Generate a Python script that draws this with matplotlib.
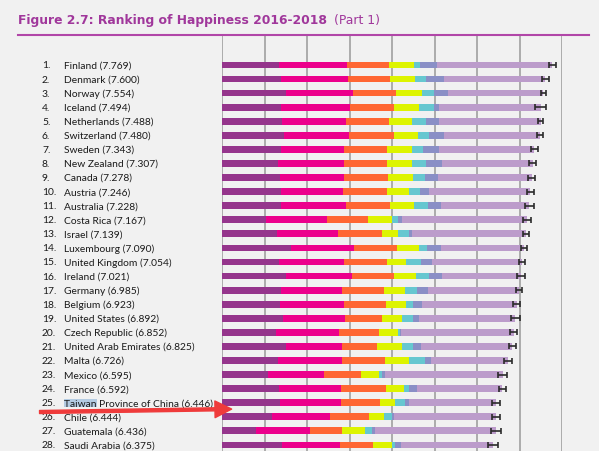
import numpy as np
import matplotlib
matplotlib.use('Agg')
import matplotlib.pyplot as plt
import matplotlib.transforms as mtransforms
from matplotlib.patches import Rectangle

# Ranking data (World Happiness Report 2019, top 28)
countries = ['Finland', 'Denmark', 'Norway', 'Iceland', 'Netherlands', 'Switzerland',
             'Sweden', 'New Zealand', 'Canada', 'Austria', 'Australia', 'Costa Rica',
             'Israel', 'Luxembourg', 'United Kingdom', 'Ireland', 'Germany', 'Belgium',
             'United States', 'Czech Republic', 'United Arab Emirates', 'Malta', 'Mexico',
             'France', 'Taiwan Province of China', 'Chile', 'Guatemala', 'Saudi Arabia']
scores = [7.769, 7.600, 7.554, 7.494, 7.488, 7.480, 7.343, 7.307, 7.278, 7.246, 7.228,
          7.167, 7.139, 7.090, 7.054, 7.021, 6.985, 6.923, 6.892, 6.852, 6.825, 6.726,
          6.595, 6.592, 6.446, 6.444, 6.436, 6.375]
gdp = [1.340, 1.383, 1.488, 1.380, 1.396, 1.452, 1.387, 1.303, 1.365, 1.376, 1.372,
       1.034, 1.276, 1.609, 1.333, 1.499, 1.373, 1.356, 1.433, 1.269, 1.503, 1.300,
       1.070, 1.324, 1.368, 1.159, 0.800, 1.403]
social = [1.587, 1.573, 1.582, 1.624, 1.522, 1.526, 1.487, 1.557, 1.505, 1.475, 1.548,
          1.441, 1.455, 1.479, 1.538, 1.553, 1.454, 1.504, 1.457, 1.487, 1.310, 1.520,
          1.323, 1.472, 1.430, 1.369, 1.269, 1.357]
health = [0.986, 0.996, 1.028, 1.026, 0.999, 1.052, 1.009, 1.026, 1.039, 1.016, 1.036,
          0.963, 1.029, 1.012, 0.996, 0.999, 0.987, 0.986, 0.874, 0.920, 0.825, 0.999,
          0.861, 1.045, 0.914, 0.920, 0.746, 0.795]
freedom = [0.596, 0.592, 0.603, 0.591, 0.557, 0.572, 0.574, 0.585, 0.584, 0.532, 0.557,
           0.558, 0.371, 0.526, 0.450, 0.516, 0.495, 0.473, 0.454, 0.457, 0.598, 0.564,
           0.433, 0.436, 0.351, 0.357, 0.535, 0.439]
generosity = [0.153, 0.252, 0.271, 0.354, 0.322, 0.263, 0.267, 0.330, 0.285, 0.244, 0.332,
              0.144, 0.261, 0.194, 0.348, 0.298, 0.261, 0.160, 0.280, 0.046, 0.262, 0.375,
              0.074, 0.111, 0.242, 0.187, 0.175, 0.080]
corruption = [0.393, 0.410, 0.341, 0.118, 0.298, 0.343, 0.373, 0.380, 0.308, 0.226, 0.290,
              0.093, 0.082, 0.316, 0.278, 0.310, 0.265, 0.210, 0.128, 0.036, 0.182, 0.151,
              0.073, 0.183, 0.097, 0.056, 0.078, 0.132]
ci_half = [0.078, 0.080, 0.063, 0.130, 0.063, 0.075, 0.086, 0.080, 0.090, 0.078, 0.100,
           0.098, 0.075, 0.070, 0.080, 0.094, 0.070, 0.078, 0.110, 0.078, 0.090, 0.094,
           0.100, 0.086, 0.090, 0.100, 0.120, 0.120]

highlight = 'Taiwan'

colors = ['#95358c', '#ec008c', '#ff6633', '#ddf400', '#66c7d0', '#8a8fc6', '#bc9ccb']
bg = '#f1f1f1'
title_col = '#a0379b'

W, H = 599, 452
fig = plt.figure(figsize=(W / 100, H / 100), dpi=100, facecolor=bg)
ax = fig.add_axes([222.3 / W, 0, (562.3 - 222.3) / W, (H - 36) / H], facecolor=bg)
renderer = fig.canvas.get_renderer()

n = len(countries)
rows = np.arange(1, n + 1)
residual = np.array(scores) - (np.array(gdp) + np.array(social) + np.array(health)
                               + np.array(freedom) + np.array(generosity) + np.array(corruption))
parts = [gdp, social, health, freedom, generosity, corruption, residual]

left = np.zeros(n)
for vals, c in zip(parts, colors):
    ax.barh(rows, vals, left=left, height=0.48, color=c, zorder=2)
    left = left + np.array(vals)

ax.errorbar(scores, rows, xerr=ci_half, fmt='none', ecolor='#2b2b2b', elinewidth=1.2,
            capsize=2, capthick=1.2, zorder=3)

ax.set_xlim(0, 8)
ax.set_ylim(28.43, -1.13)
ax.set_xticks(range(0, 9))
ax.grid(axis='x', color='#a0a0a0', linewidth=1.2, zorder=1)
ax.tick_params(left=False, bottom=False, labelleft=False, labelbottom=False)
for s in ax.spines.values():
    s.set_visible(False)

# Row labels
trans = mtransforms.blended_transform_factory(fig.transFigure, ax.transData)
lab_font = dict(family='Lato', fontsize=7.4, color='#1a1a1a')
for r, name, sc in zip(rows, countries, scores):
    ax.text(42 / W, r, f'{r}.', transform=trans, ha='left', va='center', zorder=5, **lab_font)
    ax.text(64 / W, r, f'{name} ({sc:.3f})', transform=trans, ha='left', va='center',
            zorder=5, **lab_font)
    if name.startswith(highlight):
        probe = ax.text(64 / W, r, highlight, transform=trans, ha='left', va='center', **lab_font)
        bb = probe.get_window_extent(renderer)
        probe.remove()
        ax.add_patch(Rectangle((bb.x0, bb.y0 + 0.5), bb.width, bb.height - 1,
                               transform=mtransforms.IdentityTransform(), clip_on=False,
                               facecolor='#b3cbe2', edgecolor='none', zorder=4))

# Red arrow pointing at the highlighted row
hi_row = [i for i, c in enumerate(countries) if c.startswith(highlight)][0] + 1
ax.annotate('', xy=(0.22, hi_row + 0.45), xytext=(-4.3, hi_row + 0.66),
            xycoords='data', textcoords='data', annotation_clip=False,
            arrowprops=dict(arrowstyle='simple,head_length=1.2,head_width=1.2,tail_width=0.22',
                            color='#ef3b3b', mutation_scale=10, shrinkA=0, shrinkB=0),
            zorder=6)

# Title: bold part scaled to the reference width, "(Part 1)" placed right after it
t1 = fig.text(18 / W, 1 - 24 / H, 'Figure 2.7: Ranking of Happiness 2016-2018',
              fontsize=10, fontweight='bold', color=title_col, family='DejaVu Sans',
              ha='left', va='baseline')
w1 = t1.get_window_extent(renderer).width
fs = 10 * 310 / w1
t1.set_fontsize(fs)
fig.text(334 / W, 1 - 24 / H, '(Part 1)', fontsize=fs, color=title_col,
         family='DejaVu Sans', ha='left', va='baseline')
fig.add_artist(plt.Line2D([18 / W, 589 / W], [1 - 35.7 / H, 1 - 35.7 / H],
                          transform=fig.transFigure, color='#b146a8', linewidth=1.5))

fig.savefig('out.png', dpi=100, facecolor=bg)
